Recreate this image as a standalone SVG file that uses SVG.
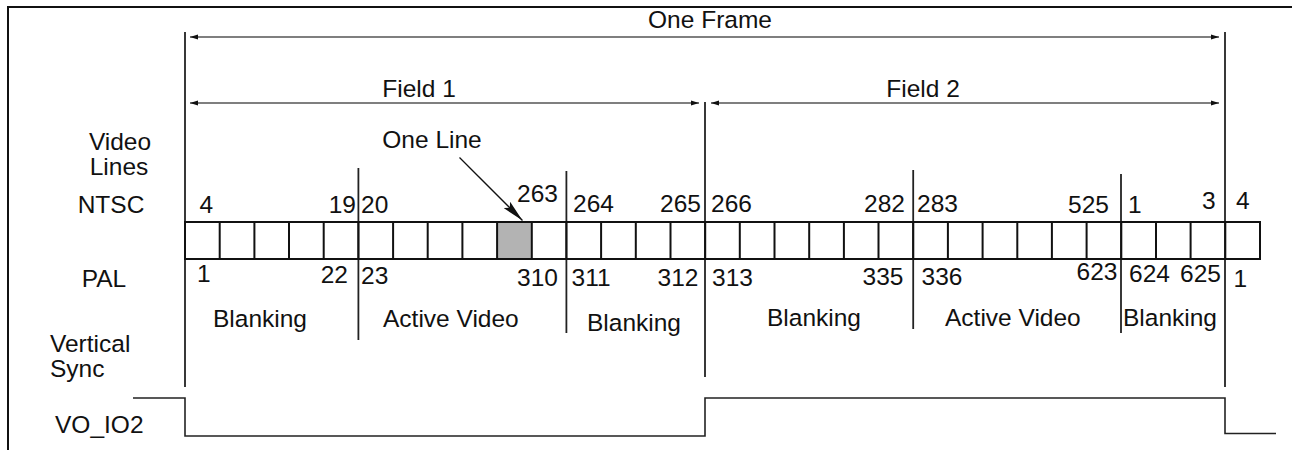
<svg xmlns="http://www.w3.org/2000/svg" width="1292" height="450" viewBox="0 0 1292 450">
<style>
text{font-family:"Liberation Sans",Arial,sans-serif;font-size:24.5px;fill:#111}
.e{text-anchor:end}
.m{text-anchor:middle}
.frame{stroke:#111;stroke-width:2;fill:none}
.tall{stroke:#222;stroke-width:1.8;fill:none}
.cell{stroke:#111;stroke-width:2;fill:none}
.arr{stroke:#555;stroke-width:1.5;fill:none}
.wave{stroke:#222;stroke-width:1.6;fill:none}
</style>
<defs>
<marker id="ah" viewBox="0 0 8 6" refX="8" refY="3" markerWidth="8" markerHeight="6" markerUnits="userSpaceOnUse" orient="auto-start-reverse">
<path d="M0,0.5 L8,3 L0,5.5 Z" fill="#111"/>
</marker>
<marker id="ah2" viewBox="0 0 22 9" refX="22" refY="4.5" markerWidth="22" markerHeight="9" markerUnits="userSpaceOnUse" orient="auto">
<path d="M0,0 L22,4.5 L0,9 L4,4.5 Z" fill="#111"/>
</marker>
</defs>
<rect width="1292" height="450" fill="#fff"/>
<g id="border">
<path class="frame" d="M8,450 V7 H1292"/>
</g>
<g id="labels">
<text x="710" y="28" class="m">One Frame</text>
<text x="419" y="97" class="m">Field 1</text>
<text x="923" y="97" class="m">Field 2</text>
<text x="432" y="148" class="m">One Line</text>
<text x="120" y="150" class="m">Video</text>
<text x="119" y="175" class="m">Lines</text>
<text x="111" y="213" class="m">NTSC</text>
<text x="104" y="287" class="m">PAL</text>
<text x="50" y="352">Vertical</text>
<text x="50" y="377">Sync</text>
<text x="55" y="433">VO_IO2</text>
</g>
<g id="dividers">
<line class="tall" x1="185" y1="32" x2="185" y2="387"/>
<line class="tall" x1="1225" y1="32" x2="1225" y2="387"/>
<line class="tall" x1="705" y1="102" x2="705" y2="377"/>
<line class="tall" x1="358.4" y1="168" x2="358.4" y2="340"/>
<line class="tall" x1="566.4" y1="171" x2="566.4" y2="333"/>
<line class="tall" x1="913.2" y1="170" x2="913.2" y2="329"/>
<line class="tall" x1="1121" y1="174" x2="1121" y2="333"/>
</g>
<g id="line-cells">
<rect x="497.1" y="222" width="34.68" height="37" fill="#b3b3b3"/>
<rect class="cell" x="185" y="222" width="1075" height="37"/>
<path class="cell" d="M219.7,222V259M254.4,222V259M289,222V259M323.7,222V259M358.4,222V259M393.1,222V259M427.7,222V259M462.4,222V259M497.1,222V259M531.8,222V259M566.4,222V259M601.1,222V259M635.8,222V259M670.5,222V259M705.2,222V259M739.8,222V259M774.5,222V259M809.2,222V259M843.9,222V259M878.5,222V259M913.2,222V259M947.9,222V259M982.6,222V259M1017.3,222V259M1051.9,222V259M1086.6,222V259M1121.3,222V259M1156,222V259M1190.6,222V259M1225.3,222V259"/>
</g>
<g id="ntsc-numbers">
<text x="199.5" y="213">4</text>
<text x="356" y="213" class="e">19</text>
<text x="361" y="213">20</text>
<text x="517" y="202">263</text>
<text x="573" y="212">264</text>
<text x="701" y="212" class="e">265</text>
<text x="711" y="212">266</text>
<text x="905" y="212" class="e">282</text>
<text x="917" y="212">283</text>
<text x="1109" y="213" class="e">525</text>
<text x="1128" y="213">1</text>
<text x="1202" y="209">3</text>
<text x="1236" y="209">4</text>
</g>
<g id="pal-numbers">
<text x="197" y="282">1</text>
<text x="348" y="283" class="e">22</text>
<text x="361" y="284">23</text>
<text x="517" y="286">310</text>
<text x="571.5" y="286">311</text>
<text x="698.5" y="286" class="e">312</text>
<text x="712" y="286">313</text>
<text x="903.5" y="285" class="e">335</text>
<text x="921.5" y="285">336</text>
<text x="1117.5" y="280" class="e">623</text>
<text x="1129" y="282">624</text>
<text x="1180" y="282">625</text>
<text x="1233.5" y="287">1</text>
</g>
<g id="section-labels">
<text x="213" y="327">Blanking</text>
<text x="383" y="327">Active Video</text>
<text x="587" y="331">Blanking</text>
<text x="767" y="326">Blanking</text>
<text x="945" y="326">Active Video</text>
<text x="1123" y="326">Blanking</text>
</g>
<g id="vo-io2-waveform">
<path class="wave" d="M133,398 H185 V436 H705 V398 H1225 V433.5 H1276"/>
</g>
<g id="connectors">
<line class="arr" x1="190" y1="37" x2="1219" y2="37" marker-start="url(#ah)" marker-end="url(#ah)"/>
<line class="arr" x1="190" y1="103" x2="699" y2="103" marker-start="url(#ah)" marker-end="url(#ah)"/>
<line class="arr" x1="711" y1="103" x2="1219" y2="103" marker-start="url(#ah)" marker-end="url(#ah)"/>
<line stroke="#111" stroke-width="1.3" x1="459.5" y1="157.5" x2="522.5" y2="220.5" marker-end="url(#ah2)"/>
</g>
</svg>
